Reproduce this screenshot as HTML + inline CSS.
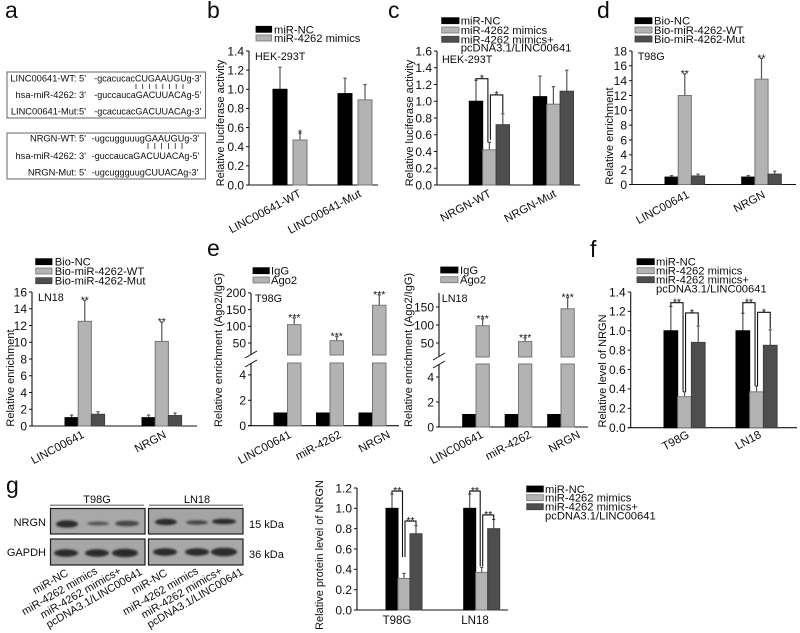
<!DOCTYPE html>
<html lang="en">
<head>
<meta charset="utf-8">
<title>Multi-panel bar chart figure</title>
<style>
html,body{margin:0;padding:0;background:#fff;width:800px;height:633px;overflow:hidden}
svg{display:block;filter:blur(0.3px)}
text{font-family:"Liberation Sans",sans-serif;fill:#0d0d0d}
.seq{font-size:9.3px}
.letter{font-size:23px}
</style>
</head>
<body>
<svg id="figure" xmlns="http://www.w3.org/2000/svg" width="800" height="633" viewBox="0 0 800 633">
<defs>
<filter id="bandBlur" x="-30%" y="-80%" width="160%" height="260%"><feGaussianBlur stdDeviation="1.1"/></filter>
</defs>
<rect width="800" height="633" fill="#fff"/>

<text class="letter" x="5" y="18">a</text>
<text class="letter" x="207" y="18">b</text>
<text class="letter" x="388" y="18">c</text>
<text class="letter" x="597" y="18">d</text>
<text class="letter" x="207" y="256">e</text>
<text class="letter" x="590" y="257">f</text>
<text class="letter" x="6" y="493">g</text>

<g>
<rect x="7" y="72" width="198.5" height="46" fill="#fff" stroke="#666" stroke-width="1"/>
<text class="seq" x="86" y="81.5" text-anchor="end">LINC00641-WT: 5'</text>
<text class="seq" x="94.3" y="81.5" textLength="107" lengthAdjust="spacingAndGlyphs">-gcacucacCUGAAUGUg-3'</text>
<text class="seq" x="86" y="98" text-anchor="end">hsa-miR-4262: 3'</text>
<text class="seq" x="94.3" y="98" textLength="107" lengthAdjust="spacingAndGlyphs">-guccaucaGACUUACAg-5'</text>
<text class="seq" x="86" y="114.5" text-anchor="end">LINC00641-Mut:5'</text>
<text class="seq" x="94.3" y="114.5" textLength="107" lengthAdjust="spacingAndGlyphs">-gcacucacGACUUACAg-3'</text>
<path d="M136 84v5M142.7 84v5M149.4 84v5M156.1 84v5M162.8 84v5M169.5 84v5M176.2 84v5M183 84v5" stroke="#222" stroke-width="0.8" fill="none"/>
</g>
<g>
<rect x="7" y="133" width="198.5" height="46" fill="#fff" stroke="#666" stroke-width="1"/>
<text class="seq" x="86" y="141.5" text-anchor="end">NRGN-WT: 5'</text>
<text class="seq" x="91.7" y="141.5" textLength="107.5" lengthAdjust="spacingAndGlyphs">-ugcugguuugGAAUGUg-3'</text>
<text class="seq" x="86" y="159" text-anchor="end">hsa-miR-4262: 3'</text>
<text class="seq" x="91.7" y="159" textLength="107.5" lengthAdjust="spacingAndGlyphs">-guccaucaGACUUACAg-5'</text>
<text class="seq" x="86" y="175.5" text-anchor="end">NRGN-Mut: 5'</text>
<text class="seq" x="91.7" y="175.5" textLength="106.5" lengthAdjust="spacingAndGlyphs">-ugcuggguugCUUACAg-3'</text>
<path d="M148 143v6M154.8 143v6M161.6 143v6M168.4 143v6M175.2 143v6M182 143v6" stroke="#222" stroke-width="0.8" fill="none"/>
</g>

<g>
<text x="97" y="503" font-size="11" text-anchor="middle">T98G</text>
<text x="197" y="503" font-size="11" text-anchor="middle">LN18</text>
<rect x="50" y="504.5" width="94" height="1.5" fill="#8c8c8c"/>
<rect x="149" y="504.5" width="94" height="1.5" fill="#8c8c8c"/>
<text x="46" y="526" font-size="11" text-anchor="end">NRGN</text>
<text x="46" y="556" font-size="11" text-anchor="end">GAPDH</text>
<text x="249" y="528" font-size="11">15 kDa</text>
<text x="249" y="558" font-size="11">36 kDa</text>
<rect x="50.5" y="508.5" width="94.5" height="25.5" fill="#a8a8a8" stroke="#1e1e1e" stroke-width="1.2"/>
<rect x="148.5" y="508.5" width="94.5" height="25.5" fill="#a4a4a4" stroke="#1e1e1e" stroke-width="1.2"/>
<rect x="50.5" y="539" width="94.5" height="26" fill="#a6a6a6" stroke="#1e1e1e" stroke-width="1.2"/>
<rect x="148.5" y="539" width="94.5" height="26" fill="#a8a8a8" stroke="#1e1e1e" stroke-width="1.2"/>
<g filter="url(#bandBlur)" fill="#2a2a2a">
<ellipse cx="67" cy="524" rx="11" ry="3.8"/>
<ellipse cx="98" cy="523.5" rx="11" ry="2" fill="#555"/>
<ellipse cx="127" cy="523.5" rx="12" ry="2.8" fill="#444"/>
<ellipse cx="166" cy="522" rx="11" ry="3.2"/>
<ellipse cx="197" cy="522.5" rx="11" ry="2.2" fill="#444"/>
<ellipse cx="224" cy="521.5" rx="12" ry="2.8"/>
<ellipse cx="66" cy="553" rx="12" ry="3.8"/>
<ellipse cx="97" cy="553" rx="12" ry="3.8"/>
<ellipse cx="125" cy="553" rx="13" ry="4.2"/>
<ellipse cx="165" cy="552" rx="12" ry="3.8"/>
<ellipse cx="197" cy="552" rx="12" ry="3.8"/>
<ellipse cx="224" cy="552" rx="13" ry="4.3"/>
</g>
<g font-size="11" text-anchor="end">
<text transform="translate(69,575) rotate(-30)">miR-NC</text>
<text transform="translate(98,573) rotate(-30)">miR-4262 mimics</text>
<text transform="translate(122,573) rotate(-30)">miR-4262 mimics+</text>
<text transform="translate(143,574) rotate(-30)">pcDNA3.1/LINC00641</text>
<text transform="translate(168,575) rotate(-30)">miR-NC</text>
<text transform="translate(199,573) rotate(-30)">miR-4262 mimics</text>
<text transform="translate(223,573) rotate(-30)">miR-4262 mimics+</text>
<text transform="translate(244,574) rotate(-30)">pcDNA3.1/LINC00641</text>
</g>
</g>
</svg>
<script>
// ---- Panel b ----
const bCategories = ['LINC00641-WT', 'LINC00641-Mut'];
const bTicks = ['0.0', '0.2', '0.4', '0.6', '0.8', '1.0', '1.2', '1.4'];
const bNC = [1.0, 0.955];
const bMimics = [0.47, 0.89];
const bNCErrTop = [1.23, 1.115];
const bMimicsErrTop = [0.54, 1.05];
const bMimicsStars = ['*', ''];

// ---- Panel c ----
const cCategories = ['NRGN-WT', 'NRGN-Mut'];
const cTicks = ['0.0', '0.2', '0.4', '0.6', '0.8', '1.0', '1.2', '1.4', '1.6'];
const cNC = [1.0, 1.055];
const cMimics = [0.42, 0.965];
const cRescue = [0.72, 1.12];
const cNCErrTop = [1.25, 1.30];
const cMimicsErrTop = [0.51, 1.175];
const cRescueErrTop = [0.85, 1.37];
const cBracketTops = [1.27, 1.075];
const cBracketLeft = [1.25, 0.54];
const cBracketRight = [0.51, 0.86];
const cBracketStars = ['*', '*'];

// ---- Panel d (T98G) ----
const dCategories = ['LINC00641', 'NRGN'];
const dTicks = ['0', '2', '4', '6', '8', '10', '12', '14', '16', '18'];
const dBio = [1.0, 1.0];
const dWT = [12.0, 14.2];
const dMut = [1.15, 1.4];
const dBioErrTop = [1.2, 1.2];
const dWTErrTop = [14.9, 17.0];
const dMutErrTop = [1.4, 1.8];
const dWTStars = ['**', '**'];

// ---- Panel d (LN18) ----
const d2Categories = ['LINC00641', 'NRGN'];
const d2Ticks = ['0', '2', '4', '6', '8', '10', '12', '14', '16'];
const d2Bio = [1.0, 1.0];
const d2WT = [12.5, 10.1];
const d2Mut = [1.4, 1.25];
const d2BioErrTop = [1.3, 1.3];
const d2WTErrTop = [15.0, 12.4];
const d2MutErrTop = [1.7, 1.55];
const d2WTStars = ['**', '**'];

// ---- Panel e (T98G) ----
const eCategories = ['LINC00641', 'miR-4262', 'NRGN'];
const eLowerTicks = ['0', '2', '4'];
const eUpperTicks = ['50', '100', '150', '200'];
const eIgG = [1, 1, 1];
const eAgo2 = [105, 57, 163];
const eAgo2ErrTop = [125, 69, 194];
const eStars = ['***', '***', '***'];

// ---- Panel e (LN18) ----
const e2Categories = ['LINC00641', 'miR-4262', 'NRGN'];
const e2LowerTicks = ['0', '2', '4'];
const e2UpperTicks = ['50', '100', '150'];
const e2IgG = [1, 1, 1];
const e2Ago2 = [98, 54, 145];
const e2Ago2ErrTop = [117, 64, 176];
const e2Stars = ['***', '***', '***'];

// ---- Panel f ----
const fCategories = ['T98G', 'LN18'];
const fTicks = ['0.0', '0.2', '0.4', '0.6', '0.8', '1.0', '1.2', '1.4'];
const fNC = [1.0, 1.0];
const fMimics = [0.32, 0.37];
const fRescue = [0.88, 0.85];
const fNCErrTop = [1.25, 1.18];
const fMimicsErrTop = [0.37, 0.43];
const fRescueErrTop = [1.05, 1.01];
const fBracketTops = [1.29, 1.184, 1.29, 1.19];
const fBracketLeft = [1.25, 0.37, 1.18, 0.43];
const fBracketRight = [0.37, 1.06, 0.43, 1.02];
const fBracketStars = ['**', '*', '**', '*'];

// ---- Panel g ----
const gCategories = ['T98G', 'LN18'];
const gTicks = ['0.0', '0.2', '0.4', '0.6', '0.8', '1.0', '1.2'];
const gNC = [1.0, 1.0];
const gMimics = [0.31, 0.37];
const gRescue = [0.75, 0.80];
const gNCErrTop = [1.14, 1.14];
const gMimicsErrTop = [0.36, 0.42];
const gRescueErrTop = [0.83, 0.89];
const gBracketTops = [1.17, 0.875, 1.17, 0.935];
const gBracketLeft = [1.14, 0.52, 1.14, 0.43];
const gBracketRight = [0.52, 0.835, 0.43, 0.885];
const gBracketStars = ['**', '**', '**', '**'];

const legend3 = ['miR-NC', 'miR-4262 mimics', 'miR-4262 mimics+', 'pcDNA3.1/LINC00641'];
const legendBio = ['Bio-NC', 'Bio-miR-4262-WT', 'Bio-miR-4262-Mut'];
const legendAgo = ['IgG', 'Ago2'];
const legend2 = ['miR-NC', 'miR-4262 mimics'];

const svg = document.getElementById('figure');
const SVGNS = 'http://www.w3.org/2000/svg';
const FILLS = ['#000000', '#b3b3b3', '#4e4e4e'];
const STROKES = ['#000000', '#777777', '#3e3e3e'];

function mk(tag, name, parent) {
  const el = document.createElementNS(SVGNS, tag);
  
  
  (parent || svg).appendChild(el);
  return el;
}
function attrs(el, map) { for (const k in map) el.setAttribute(k, map[k]); return el; }
function line(name, parent, x1, y1, x2, y2, stroke, w) {
  return attrs(mk('line', name, parent), { x1, y1, x2, y2, stroke, 'stroke-width': w });
}
function label(name, parent, x, y, str, size, anchor) {
  const t = attrs(mk('text', name, parent), { x, y, 'font-size': size, 'text-anchor': anchor || 'start' });
  t.textContent = str;
  return t;
}
function drawLegend(id, parent, L, names) {
  names.forEach(function (n, i) {
    const y = L.ys[i];
    if (L.swatch > i) {
      attrs(mk('rect', id + '-legend-swatch-' + i, parent), { x: L.x, y: y - 3, width: L.w, height: 6, fill: FILLS[i], stroke: STROKES[i], 'stroke-width': 0.8 });
    }
    label(id + '-legend-entry-' + i, parent, L.textX, y + 4, n, 11.2);
  });
}
function drawPanel(p) {
  const g = mk('g', p.id, svg);
  const linear = function (v) { return p.y0 - v * (p.y0 - p.yTop) / p.yMax; };
  const yPos = p.broken
    ? function (v) { return v <= p.broken.cut ? p.y0 - v * p.broken.lowPx : p.broken.y50 - (v - 50) * p.broken.upPx; }
    : linear;
  const xPos = function (gi, si) { return p.start + gi * p.step + si * (p.barW + (p.gap || 0)); };

  // axes
  line(p.id + '-x-axis', g, p.x0 - 3, p.y0, p.xEnd, p.y0, '#111', 1.1);
  if (p.broken) {
    line(p.id + '-y-axis-lower', g, p.x0, p.y0, p.x0, p.broken.lowerTop, '#111', 1.1);
    line(p.id + '-y-axis-upper', g, p.x0, p.broken.upperBottom, p.x0, p.yTop, '#111', 1.1);
    line(p.id + '-axis-break-upper', g, p.x0 - 6, p.broken.upperBottom + 3, p.x0 + 6, p.broken.upperBottom - 4, '#111', 1);
    line(p.id + '-axis-break-lower', g, p.x0 - 6, p.broken.lowerTop + 4, p.x0 + 6, p.broken.lowerTop - 3, '#111', 1);
  } else {
    line(p.id + '-y-axis', g, p.x0, p.y0, p.x0, p.yTop, '#111', 1.1);
  }
  p.ticks.forEach(function (t) {
    const y = yPos(parseFloat(t));
    line(p.id + '-tick-' + t, g, p.x0 - 3, y, p.x0, y, '#111', 1);
    label(p.id + '-tick-label-' + t, g, p.x0 - 5, y + 4.3, t, p.tickSize || 12, 'end');
  });
  const title = attrs(mk('text', p.id + '-y-axis-title', g), {
    transform: 'translate(' + p.titleX + ',' + p.titleY + ') rotate(-90)',
    'font-size': p.titleSize || 11, 'text-anchor': 'middle'
  });
  title.textContent = p.title;

  // bars
  p.series.forEach(function (s, si) {
    s.values.forEach(function (v, gi) {
      const x = xPos(gi, si);
      const cx = x + p.barW / 2;
      if (s.err) {
        const et = yPos(s.err[gi]);
        line(p.id + '-error-' + si + '-' + gi, g, cx, yPos(v), cx, et, '#555', 1.2);
        line(p.id + '-error-cap-' + si + '-' + gi, g, cx - 1.6, et, cx + 1.6, et, '#555', 1.2);
      }
      if (p.broken && v > p.broken.cut) {
        attrs(mk('rect', p.id + '-bar-lower-' + si + '-' + gi, g), { x, y: p.broken.lowerTop, width: p.barW, height: p.y0 - p.broken.lowerTop, fill: FILLS[si], stroke: STROKES[si], 'stroke-width': 1 });
        attrs(mk('rect', p.id + '-bar-upper-' + si + '-' + gi, g), { x, y: yPos(v), width: p.barW, height: p.broken.upperBottom - yPos(v), fill: FILLS[si], stroke: STROKES[si], 'stroke-width': 1 });
      } else {
        attrs(mk('rect', p.id + '-bar-' + si + '-' + gi, g), { x, y: yPos(v), width: p.barW, height: p.y0 - yPos(v), fill: FILLS[si], stroke: STROKES[si], 'stroke-width': 1 });
      }
      if (s.stars && s.stars[gi]) {
        const base = (s.err ? yPos(s.err[gi]) : yPos(v)) + 3;
        label(p.id + '-significance-' + si + '-' + gi, g, cx, base, s.stars[gi], 10.5, 'middle');
      }
    });
  });

  // significance brackets: two per group
  if (p.brackets) {
    const B = p.brackets;
    B.tops.forEach(function (top, i) {
      const gi = Math.floor(i / 2);
      const first = i % 2 === 0;
      const lx = xPos(gi, first ? 0 : 1) + p.barW / 2 + (first ? 0 : 1);
      const rx = xPos(gi, first ? 1 : 2) + p.barW / 2 + (first ? -1.5 : 0);
      const path = mk('path', p.id + '-bracket-' + i, g);
      attrs(path, { d: 'M' + lx + ' ' + yPos(B.left[i]) + 'V' + yPos(top) + 'H' + rx + 'V' + yPos(B.right[i]), fill: 'none', stroke: '#111', 'stroke-width': 1.1 });
      label(p.id + '-bracket-stars-' + i, g, (lx + rx) / 2, yPos(top) + 3, B.stars[i], 10.5, 'middle');
    });
  }

  // category labels
  p.categories.forEach(function (c, i) {
    const lx = p.start + i * p.step + p.labelDx[i];
    const t = mk('text', p.id + '-category-' + i, g);
    if (p.flatLabels) {
      attrs(t, { x: lx, y: p.labelY, 'font-size': 11.5, 'text-anchor': 'middle' });
    } else {
      attrs(t, { transform: 'translate(' + lx + ',' + p.labelY + ') rotate(-28)', 'font-size': 11.5, 'text-anchor': 'end' });
    }
    t.textContent = c;
  });

  if (p.cell) label(p.id + '-cell-line', g, p.cell[0], p.cell[1], p.cell[2], 10.8);
  drawLegend(p.id, g, p.legend, p.legendNames);
}

drawPanel({
  id: 'panel-b', x0: 249, y0: 185, yTop: 51, yMax: 1.4, xEnd: 378, start: 273, step: 65, barW: 14, gap: 6,
  ticks: bTicks, categories: bCategories, labelDx: [29, 24], labelY: 196,
  title: 'Relative luciferase activity', titleX: 224, titleY: 123,
  series: [{ values: bNC, err: bNCErrTop }, { values: bMimics, err: bMimicsErrTop, stars: bMimicsStars }],
  cell: [255, 60, 'HEK-293T'],
  legendNames: legend2, legend: { x: 256, w: 15.7, textX: 274, ys: [29.3, 38], swatch: 2 }
});
drawPanel({
  id: 'panel-c', x0: 437, y0: 185, yTop: 51, yMax: 1.6, xEnd: 580, start: 469.3, step: 64, barW: 13.4,
  ticks: cTicks, categories: cCategories, labelDx: [22.7, 23.7], labelY: 196,
  title: 'Relative luciferase activity', titleX: 413, titleY: 123,
  series: [{ values: cNC, err: cNCErrTop }, { values: cMimics, err: cMimicsErrTop }, { values: cRescue, err: cRescueErrTop }],
  brackets: { tops: cBracketTops, left: cBracketLeft, right: cBracketRight, stars: cBracketStars },
  cell: [442, 63, 'HEK-293T'],
  legendNames: legend3, legend: { x: 441.7, w: 17.3, textX: 460.7, ys: [20.7, 30, 39.3, 47.7], swatch: 3 }
});
drawPanel({
  id: 'panel-d-t98g', x0: 632, y0: 184.5, yTop: 51, yMax: 18, xEnd: 796, start: 665, step: 76.7, barW: 13.2,
  ticks: dTicks, categories: dCategories, labelDx: [25, 24.3], labelY: 197,
  title: 'Relative enrichment', titleX: 613, titleY: 136,
  series: [{ values: dBio, err: dBioErrTop }, { values: dWT, err: dWTErrTop, stars: dWTStars }, { values: dMut, err: dMutErrTop }],
  cell: [637.7, 60, 'T98G'],
  legendNames: legendBio, legend: { x: 635, w: 17, textX: 654, ys: [20.7, 30, 39], swatch: 3 }
});
drawPanel({
  id: 'panel-d-ln18', x0: 32, y0: 426, yTop: 292, yMax: 16, xEnd: 197, start: 65, step: 77, barW: 13.2,
  ticks: d2Ticks, categories: d2Categories, labelDx: [20, 25], labelY: 437,
  title: 'Relative enrichment', titleX: 14, titleY: 378,
  series: [{ values: d2Bio, err: d2BioErrTop }, { values: d2WT, err: d2WTErrTop, stars: d2WTStars }, { values: d2Mut, err: d2MutErrTop }],
  cell: [38, 301, 'LN18'],
  legendNames: legendBio, legend: { x: 35.7, w: 16.3, textX: 54.7, ys: [261.7, 271, 280.7], swatch: 3 }
});
drawPanel({
  id: 'panel-e-t98g', x0: 251, y0: 425.7, yTop: 293, yMax: 200, xEnd: 399, start: 274, step: 42.5, barW: 13.5,
  broken: { cut: 5, lowPx: 12.7, lowerTop: 363, upperBottom: 355, y50: 343, upPx: 0.334 },
  ticks: eLowerTicks.concat(eUpperTicks), categories: eCategories, labelDx: [18, 25.5, 32], labelY: 437,
  title: 'Relative enrichment (Ago2/IgG)', titleX: 222, titleY: 350,
  series: [{ values: eIgG }, { values: eAgo2, err: eAgo2ErrTop, stars: eStars }],
  cell: [255, 302, 'T98G'],
  legendNames: legendAgo, legend: { x: 253, w: 16.3, textX: 271, ys: [270.7, 280], swatch: 2 }
});
drawPanel({
  id: 'panel-e-ln18', x0: 439, y0: 427, yTop: 293, yMax: 150, xEnd: 588, start: 462.7, step: 42.5, barW: 13.3,
  broken: { cut: 5, lowPx: 12.5, lowerTop: 364, upperBottom: 357, y50: 343, upPx: 0.36 },
  ticks: e2LowerTicks.concat(e2UpperTicks), categories: e2Categories, labelDx: [21.3, 26.8, 33.3], labelY: 437,
  title: 'Relative enrichment (Ago2/IgG)', titleX: 412, titleY: 350,
  series: [{ values: e2IgG }, { values: e2Ago2, err: e2Ago2ErrTop, stars: e2Stars }],
  cell: [441.7, 302, 'LN18'],
  legendNames: legendAgo, legend: { x: 440.7, w: 17.3, textX: 460, ys: [270, 279.7], swatch: 2 }
});
drawPanel({
  id: 'panel-f', x0: 630.7, y0: 427.7, yTop: 292, yMax: 1.4, xEnd: 797, start: 664, step: 72, barW: 13.7,
  ticks: fTicks, categories: fCategories, labelDx: [26, 26], labelY: 437,
  title: 'Relative level of NRGN', titleX: 606, titleY: 371,
  series: [{ values: fNC, err: fNCErrTop }, { values: fMimics, err: fMimicsErrTop }, { values: fRescue, err: fRescueErrTop }],
  brackets: { tops: fBracketTops, left: fBracketLeft, right: fBracketRight, stars: fBracketStars },
  legendNames: legend3, legend: { x: 637, w: 17.3, textX: 656, ys: [261.7, 270.7, 279.7, 288.3], swatch: 3 }
});
drawPanel({
  id: 'panel-g', x0: 357, y0: 610, yTop: 488, yMax: 1.2, xEnd: 508, start: 386, step: 77.7, barW: 12,
  ticks: gTicks, categories: gCategories, labelDx: [11, 11.3], labelY: 624, flatLabels: true,
  title: 'Relative protein level of NRGN', titleX: 323, titleY: 555,
  series: [{ values: gNC, err: gNCErrTop }, { values: gMimics, err: gMimicsErrTop }, { values: gRescue, err: gRescueErrTop }],
  brackets: { tops: gBracketTops, left: gBracketLeft, right: gBracketRight, stars: gBracketStars },
  legendNames: legend3, legend: { x: 526.7, w: 16.6, textX: 545, ys: [489, 497.7, 506.7, 515.7], swatch: 3 }
});
</script>
</body>
</html>
